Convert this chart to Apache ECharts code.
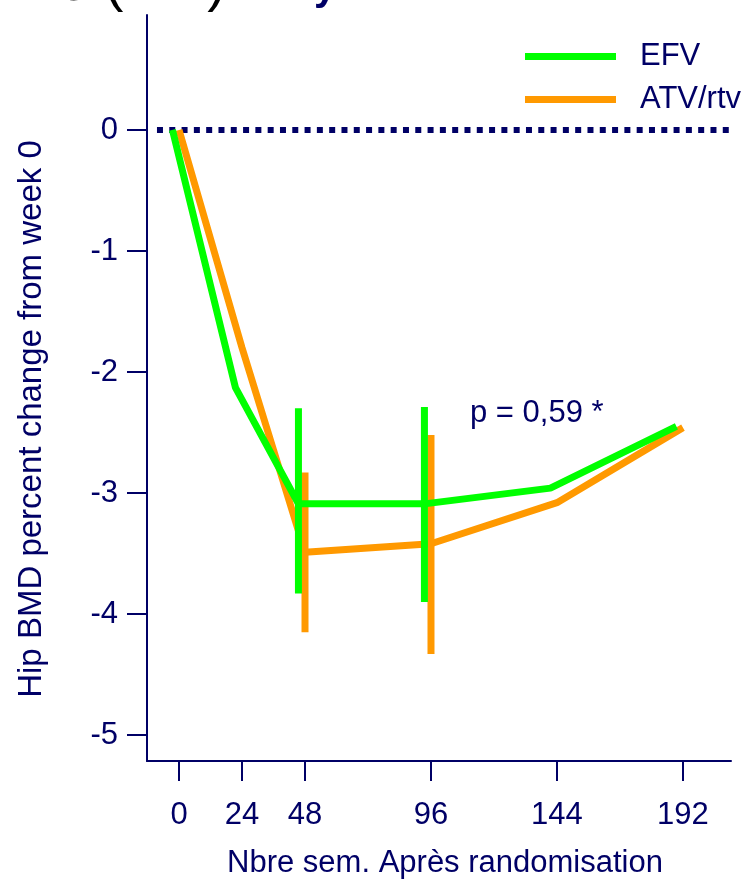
<!DOCTYPE html>
<html>
<head>
<meta charset="utf-8">
<script src="https://cdn.jsdelivr.net/npm/echarts@6/dist/echarts.min.js"></script>
<style>
html,body{margin:0;padding:0;background:#fff;}
#chart{width:751px;height:880px;}
</style>
</head>
<body>
<div id="chart"></div>
<script>
// ---- data ----
var weeks = [0, 24, 48, 96, 144, 192];
var efv = [0, -2.13, -3.09, -3.09, -2.96, -2.45];
var atv = [0, -1.80, -3.49, -3.42, -3.08, -2.46];
var errWeeks = [48, 96];
var efvUpper = [-2.30, -2.29];
var efvLower = [-3.83, -3.90];
var atvUpper = [-2.83, -2.52];
var atvLower = [-4.15, -4.33];
var xTicks = [0, 24, 48, 96, 144, 192];
var yTicks = [-5, -4, -3, -2, -1, 0];
var seriesNames = ['EFV', 'ATV/rtv'];
var pText = 'p = 0,59 *';
var xTitle = 'Nbre sem. Après randomisation';
var yTitle = 'Hip BMD percent change from week 0';

// display offsets (weeks) so the two groups do not overlap
var efvShift = -2.5;
var atvShift = 0;

var NAVY = '#000066';
var GREEN = '#00ff00';
var ORANGE = '#ff9900';
var FONT = 'Liberation Sans, Arial, sans-serif';

function pts(xs, ys, shift) {
  return xs.map(function (w, i) { return [w + shift, ys[i]]; });
}
function errData(xs, up, lo, shift) {
  return xs.map(function (w, i) { return [w + shift, up[i], lo[i]]; });
}
function errRender(color) {
  return function (params, api) {
    var x = api.value(0);
    var p1 = api.coord([x, api.value(1)]);
    var p2 = api.coord([x, api.value(2)]);
    return {
      type: 'line',
      shape: { x1: p1[0], y1: p1[1], x2: p2[0], y2: p2[1] },
      style: { stroke: color, lineWidth: 7, lineCap: 'butt' }
    };
  };
}

var chart = echarts.init(document.getElementById('chart'), null, { renderer: 'canvas' });
chart.setOption({
  animation: false,
  backgroundColor: '#ffffff',
  textStyle: { fontFamily: FONT },
  grid: { left: 147, right: 20, top: 15, bottom: 119, containLabel: false },
  legend: {
    data: seriesNames,
    orient: 'vertical',
    left: 520,
    top: 36,
    itemWidth: 91,
    itemHeight: 7,
    itemGap: 12,
    icon: 'rect',
    selectedMode: false,
    textStyle: { color: NAVY, fontSize: 31, fontFamily: FONT, padding: [10, 0, 0, 19] }
  },
  xAxis: {
    type: 'value',
    min: -12.2,
    max: 210.3,
    splitLine: { show: false },
    axisLine: { show: true, onZero: false, lineStyle: { color: NAVY, width: 2 } },
    axisTick: { show: true, length: 20, customValues: xTicks, lineStyle: { color: NAVY, width: 2 } },
    axisLabel: { customValues: xTicks, color: NAVY, fontSize: 31, fontFamily: FONT, margin: 39 }
  },
  yAxis: {
    type: 'value',
    min: -5.215,
    max: 0.95,
    splitLine: { show: false },
    axisLine: { show: true, onZero: false, lineStyle: { color: NAVY, width: 2 } },
    axisTick: { show: true, length: 20, customValues: yTicks, lineStyle: { color: NAVY, width: 2 } },
    axisLabel: { customValues: yTicks, color: NAVY, fontSize: 31, fontFamily: FONT, margin: 29 }
  },
  series: [
    {
      name: 'zero',
      type: 'line',
      data: [[-8.4, 0], [216.4, 0]],
      clip: false,
      silent: true,
      symbol: 'none',
      z: 1,
      lineStyle: { color: NAVY, width: 6, type: [6, 6.3], cap: 'butt' }
    },
    {
      name: 'ATV/rtv',
      type: 'line',
      data: pts(weeks, atv, atvShift),
      symbol: 'none',
      color: ORANGE,
      z: 2,
      lineStyle: { color: ORANGE, width: 7 }
    },
    {
      name: 'ATV/rtv err',
      type: 'custom',
      data: errData(errWeeks, atvUpper, atvLower, atvShift),
      renderItem: errRender(ORANGE),
      z: 3,
      silent: true
    },
    {
      name: 'EFV',
      type: 'line',
      data: pts(weeks, efv, efvShift),
      symbol: 'none',
      color: GREEN,
      z: 4,
      lineStyle: { color: GREEN, width: 7 }
    },
    {
      name: 'EFV err',
      type: 'custom',
      data: errData(errWeeks, efvUpper, efvLower, efvShift),
      renderItem: errRender(GREEN),
      z: 5,
      silent: true
    }
  ],
  graphic: [
    {
      type: 'text',
      x: 226, y: 13,
      style: { text: 'ne (ITT)', align: 'right', verticalAlign: 'bottom', fill: '#000000', font: '56px ' + FONT }
    },
    {
      type: 'text',
      x: 314, y: 9,
      style: { text: 'y', align: 'left', verticalAlign: 'bottom', fill: NAVY, font: 'bold 40px ' + FONT }
    },
    {
      type: 'text',
      x: 470, y: 413,
      style: { text: pText, align: 'left', verticalAlign: 'middle', fill: NAVY, font: '31px ' + FONT }
    },
    {
      type: 'text',
      x: 445, y: 863,
      style: { text: xTitle, align: 'center', verticalAlign: 'middle', fill: NAVY, font: '31px ' + FONT }
    },
    {
      type: 'text',
      x: 32, y: 419,
      rotation: Math.PI / 2,
      style: { text: yTitle, align: 'center', verticalAlign: 'middle', fill: NAVY, font: '33px ' + FONT }
    }
  ]
});
</script>
</body>
</html>
